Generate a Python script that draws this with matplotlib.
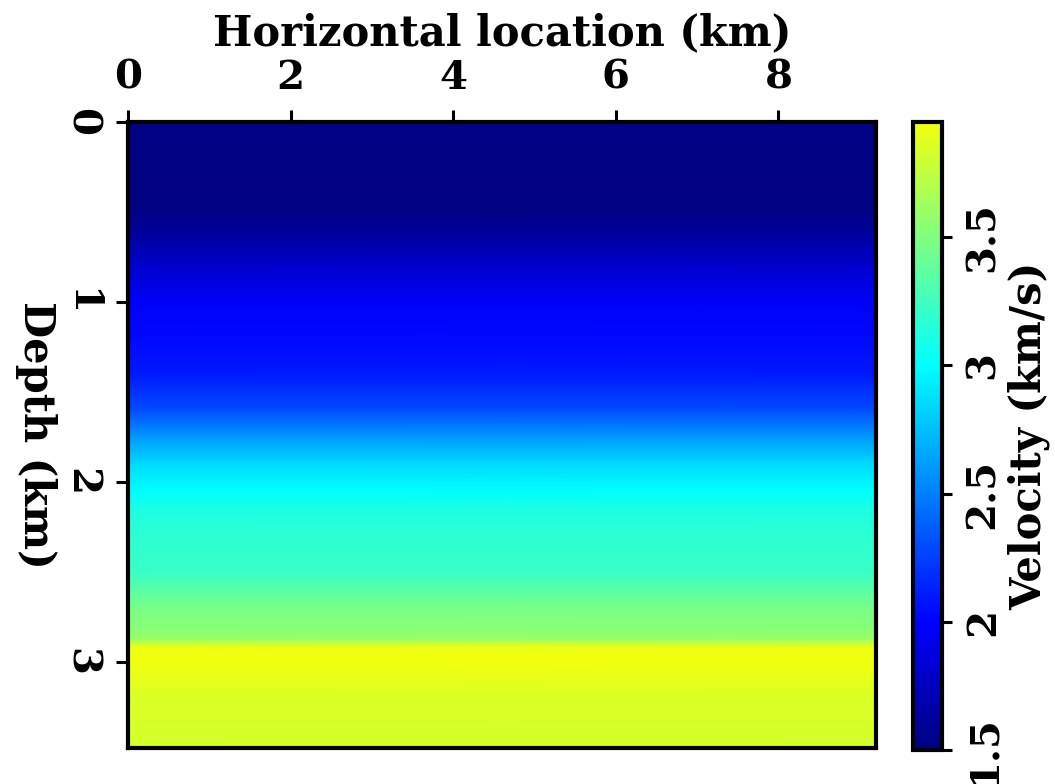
import matplotlib.pyplot as plt
import numpy as np
from matplotlib.colors import LinearSegmentedColormap

plt.rcParams.update({
    "font.family": "DejaVu Serif",
    "font.weight": "bold",
    "font.size": 29,
    "axes.labelsize": 30,
    "axes.labelweight": "bold",
    "axes.linewidth": 3.0,
    "xtick.major.width": 2.2,
    "ytick.major.width": 2.2,
    "xtick.major.size": 9,
    "ytick.major.size": 9,
})

# 1D velocity profile (laterally invariant model)
depth = [0.0, 0.2, 0.4, 0.5, 0.6, 0.8, 1.0, 1.2, 1.4, 1.6, 1.75, 1.9, 2.05, 2.15,
         2.3, 2.5, 2.6, 2.7, 2.8, 2.87, 2.92, 3.0, 3.1, 3.2, 3.48]
velocity = [1.53, 1.51, 1.50, 1.52, 1.60, 1.80, 1.97, 2.03, 2.10, 2.30, 2.60, 2.85,
            3.00, 3.10, 3.17, 3.22, 3.34, 3.47, 3.52, 3.58, 3.93, 3.95, 3.90, 3.85, 3.83]
x_extent = [0.0, 9.2]
vmin, vmax = 1.5, 3.95
cbar_ticks = [1.5, 2.0, 2.5, 3.0, 3.5]
cbar_labels = ["1.5", "2", "2.5", "3", "3.5"]

# jet-like ramp: navy -> blue -> cyan -> yellow, anchored in velocity units
anchors = [(1.5, (0.0, 0.0, 0.5)), (2.0, (0.0, 0.0, 1.0)), (3.0, (0.0, 1.0, 1.0)),
           (3.95, (0.95, 1.0, 0.05))]
cmap = LinearSegmentedColormap.from_list(
    "vel", [((v - vmin) / (vmax - vmin), c) for v, c in anchors])

fig = plt.figure(figsize=(10.55, 7.84), dpi=100)
ax = fig.add_axes([0.1213, 0.0459, 0.709, 0.7985])
cax = fig.add_axes([0.8654, 0.0434, 0.0275, 0.801])

V = np.column_stack([velocity, velocity])
mesh = ax.pcolormesh(x_extent, depth, V, shading="gouraud", cmap=cmap,
                     vmin=vmin, vmax=vmax)
ax.set_xlim(0, 9.2)
ax.set_ylim(3.48, 0)

ax.xaxis.tick_top()
ax.xaxis.set_label_position("top")
ax.set_xticks([0, 2, 4, 6, 8])
ax.set_yticks([0, 1, 2, 3])
ax.tick_params(axis="x", pad=9)
ax.tick_params(axis="y", pad=11)
ax.set_xlabel("Horizontal location (km)", labelpad=10)
ax.set_ylabel("Depth (km)", rotation=-90, labelpad=34, va="bottom")
for lbl in ax.get_yticklabels():
    lbl.set_rotation(-90)
    lbl.set_va("center")

cb = fig.colorbar(mesh, cax=cax)
cb.outline.set_linewidth(3.0)
cb.set_ticks(cbar_ticks)
cb.set_ticklabels(cbar_labels)
cax.tick_params(width=2.2, length=7, pad=9)
for lbl in cax.get_yticklabels():
    lbl.set_rotation(90)
    lbl.set_va("center")
cb.set_label("Velocity (km/s)", rotation=90, labelpad=4)

fig.savefig("out.png", dpi=100)
